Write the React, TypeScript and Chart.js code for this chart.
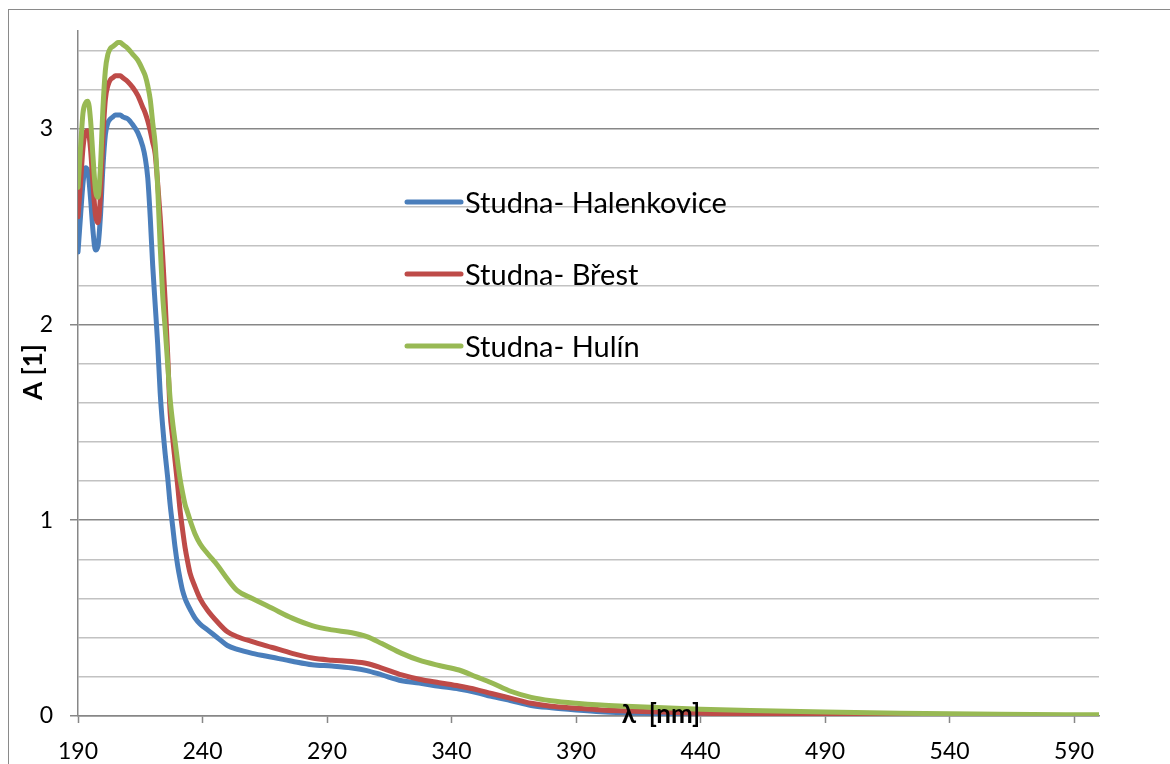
import { useEffect, useRef } from "react";
import { Chart, registerables } from "chart.js";

Chart.register(...registerables);

// Wavelength grid (nm) shared by all three absorption spectra
const wavelengths = [
  190, 191, 192, 193, 194, 195, 196, 197, 198, 199, 200, 201, 202, 203, 204, 205,
  206, 207, 208, 210, 212, 214, 216, 217, 218, 219, 220, 221, 222, 223, 224, 225,
  226, 227, 228, 229, 230, 231, 232, 233, 234, 235, 237, 239, 242, 246, 250, 254,
  260, 268, 276, 284, 292, 300, 306, 312, 320, 327, 335, 343, 350, 356, 364, 372,
  380, 390, 400, 410, 425, 440, 460, 490, 520, 560, 600,
];

// Absorbance A [1]
const halenkovice = [
  2.37, 2.55, 2.72, 2.8, 2.78, 2.65, 2.48, 2.38, 2.4, 2.55, 2.8, 2.97, 3.03, 3.05, 3.06, 3.07,
  3.07, 3.07, 3.06, 3.05, 3.02, 2.98, 2.91, 2.85, 2.75, 2.55, 2.3, 2.1, 1.9, 1.65, 1.48, 1.34,
  1.22, 1.08, 0.97, 0.86, 0.77, 0.7, 0.64, 0.6, 0.57, 0.545, 0.5, 0.47, 0.44, 0.4, 0.36, 0.34,
  0.32, 0.3, 0.28, 0.262, 0.255, 0.245, 0.232, 0.21, 0.18, 0.168, 0.152, 0.138, 0.12, 0.1, 0.078, 0.054,
  0.042, 0.031, 0.022, 0.017, 0.012, 0.008, 0.005, 0.002, 0.001, 0, 0,
];

const brest = [
  2.55, 2.72, 2.9, 2.98, 2.99, 2.9, 2.72, 2.56, 2.52, 2.65, 2.95, 3.15, 3.22, 3.25, 3.26, 3.27,
  3.27, 3.27, 3.26, 3.24, 3.21, 3.17, 3.11, 3.08, 3.04, 2.99, 2.93, 2.87, 2.72, 2.55, 2.35, 2.12,
  1.85, 1.55, 1.42, 1.3, 1.18, 1.05, 0.95, 0.86, 0.79, 0.73, 0.66, 0.6, 0.54, 0.48, 0.43, 0.405,
  0.38, 0.35, 0.32, 0.296, 0.285, 0.278, 0.268, 0.245, 0.21, 0.188, 0.17, 0.153, 0.135, 0.115, 0.09, 0.065,
  0.05, 0.04, 0.031, 0.026, 0.02, 0.014, 0.009, 0.005, 0.003, 0.001, 0,
];

const hulin = [
  2.7, 2.9, 3.08, 3.13, 3.14, 3.05, 2.86, 2.69, 2.65, 2.8, 3.1, 3.3, 3.38, 3.41, 3.42, 3.43,
  3.44, 3.44, 3.43, 3.41, 3.38, 3.35, 3.3, 3.27, 3.22, 3.15, 3.03, 2.92, 2.7, 2.4, 2.15, 1.98,
  1.8, 1.62, 1.5, 1.4, 1.3, 1.21, 1.14, 1.08, 1.04, 1.0, 0.93, 0.88, 0.83, 0.77, 0.7, 0.64,
  0.6, 0.55, 0.5, 0.462, 0.44, 0.425, 0.405, 0.37, 0.32, 0.285, 0.258, 0.235, 0.2, 0.17, 0.125, 0.095,
  0.078, 0.065, 0.056, 0.05, 0.042, 0.035, 0.028, 0.02, 0.014, 0.009, 0.006,
];

const seriesNames = ["Studna- Halenkovice", "Studna- Břest", "Studna- Hulín"];
const seriesColors = ["#4A7EBB", "#BE4B48", "#98B954"];

const xTickValues = [190, 240, 290, 340, 390, 440, 490, 540, 590];
const yGridValues = [0, 0.2, 0.4, 0.6, 0.8, 1, 1.2, 1.4, 1.6, 1.8, 2, 2.2, 2.4, 2.6, 2.8, 3, 3.2, 3.4];
const yLabelValues = [0, 1, 2, 3];

const xTitle = "λ  [nm]";
const yTitle = "A [1]";

const FONT = "Lato, 'Noto Sans', 'DejaVu Sans', sans-serif";
const AXIS_GRAY = "#878787";
const MINOR_GRAY = "#c2c2c2";

// White background plus the thin frame around the whole chart object
const framePlugin = {
  id: "frame",
  beforeDraw(chart: Chart) {
    const ctx = chart.ctx;
    ctx.save();
    ctx.fillStyle = "#ffffff";
    ctx.fillRect(0, 0, chart.width, chart.height);
    ctx.strokeStyle = "#8a8a8a";
    ctx.lineWidth = 1;
    ctx.strokeRect(8.5, 9.5, chart.width + 50, chart.height + 50);
    ctx.restore();
  },
};

// Legend placed inside the plot, plus both axis titles
const annotationPlugin = {
  id: "annotations",
  afterDraw(chart: Chart) {
    const ctx = chart.ctx;
    ctx.save();

    const legendX = 407;
    const legendLineEnd = 461;
    const legendTextX = 465;
    const legendRows = [202, 274, 346];
    chart.data.datasets.forEach((ds: any, i: number) => {
      const y = legendRows[i];
      ctx.strokeStyle = ds.borderColor;
      ctx.lineWidth = 5;
      ctx.lineCap = "round";
      ctx.beginPath();
      ctx.moveTo(legendX, y);
      ctx.lineTo(legendLineEnd, y);
      ctx.stroke();
      ctx.fillStyle = "#000000";
      ctx.font = `29px ${FONT}`;
      ctx.textAlign = "left";
      ctx.textBaseline = "alphabetic";
      ctx.fillText(ds.label, legendTextX, y + 10.5);
    });

    ctx.fillStyle = "#000000";
    ctx.font = `bold 26px ${FONT}`;
    ctx.textAlign = "center";
    ctx.textBaseline = "alphabetic";
    ctx.fillText(xTitle, 661, 723);

    ctx.translate(42, 372);
    ctx.rotate(-Math.PI / 2);
    ctx.fillText(yTitle, 0, 0);
    ctx.restore();
  },
};

export default function App() {
  const canvasRef = useRef<HTMLCanvasElement | null>(null);

  useEffect(() => {
    const canvas = canvasRef.current;
    if (!canvas) return;

    const seriesValues = [halenkovice, brest, hulin];
    const datasets = seriesValues.map((values, i) => ({
      label: seriesNames[i],
      data: wavelengths.map((w, j) => ({ x: w, y: values[j] })),
      borderColor: seriesColors[i],
      backgroundColor: seriesColors[i],
      borderWidth: 5,
      borderCapStyle: "round" as const,
      borderJoinStyle: "round" as const,
      pointRadius: 0,
      cubicInterpolationMode: "monotone" as const,
      fill: false,
      order: seriesValues.length - i,
    }));

    const chart = new Chart(canvas, {
      type: "line",
      data: { datasets },
      options: {
        animation: false,
        responsive: false,
        layout: { padding: { left: 0, top: 26, right: 71, bottom: 0 } },
        plugins: {
          legend: { display: false },
          tooltip: { enabled: false },
          title: { display: false },
        },
        scales: {
          x: {
            type: "linear",
            min: 190,
            max: 600,
            afterBuildTicks: (scale: any) => {
              scale.ticks = xTickValues.map((v) => ({ value: v }));
            },
            afterFit: (scale: any) => {
              scale.height = 48;
            },
            grid: {
              drawOnChartArea: false,
              drawTicks: true,
              tickLength: 7,
              tickColor: AXIS_GRAY,
              tickWidth: 1.5,
            },
            border: { display: true, color: AXIS_GRAY, width: 1.5 },
            ticks: {
              autoSkip: false,
              maxRotation: 0,
              padding: 15,
              color: "#000000",
              font: { family: FONT, size: 23 },
              callback: (value: any) => String(value),
            },
          },
          y: {
            type: "linear",
            min: 0,
            max: 3.5,
            afterBuildTicks: (scale: any) => {
              scale.ticks = yGridValues.map((v) => ({ value: v }));
            },
            afterFit: (scale: any) => {
              scale.width = 78;
            },
            grid: {
              drawOnChartArea: true,
              drawTicks: true,
              tickLength: 8,
              lineWidth: 1.5,
              color: (ctx: any) =>
                ctx.tick && yLabelValues.includes(ctx.tick.value) ? AXIS_GRAY : MINOR_GRAY,
              tickColor: (ctx: any) =>
                ctx.tick && yLabelValues.includes(ctx.tick.value) ? AXIS_GRAY : "rgba(0,0,0,0)",
            },
            border: { display: true, color: AXIS_GRAY, width: 1.5 },
            ticks: {
              autoSkip: false,
              padding: 17,
              color: "#000000",
              font: { family: FONT, size: 23 },
              callback: (value: any) => (yLabelValues.includes(value) ? String(value) : ""),
            },
          },
        },
      },
      plugins: [framePlugin, annotationPlugin],
    });

    return () => chart.destroy();
  }, []);

  return (
    <div style={{ position: "fixed", left: 0, top: 0, width: 1170, height: 764 }}>
      <canvas ref={canvasRef} width={1170} height={764} style={{ display: "block" }} />
    </div>
  );
}
